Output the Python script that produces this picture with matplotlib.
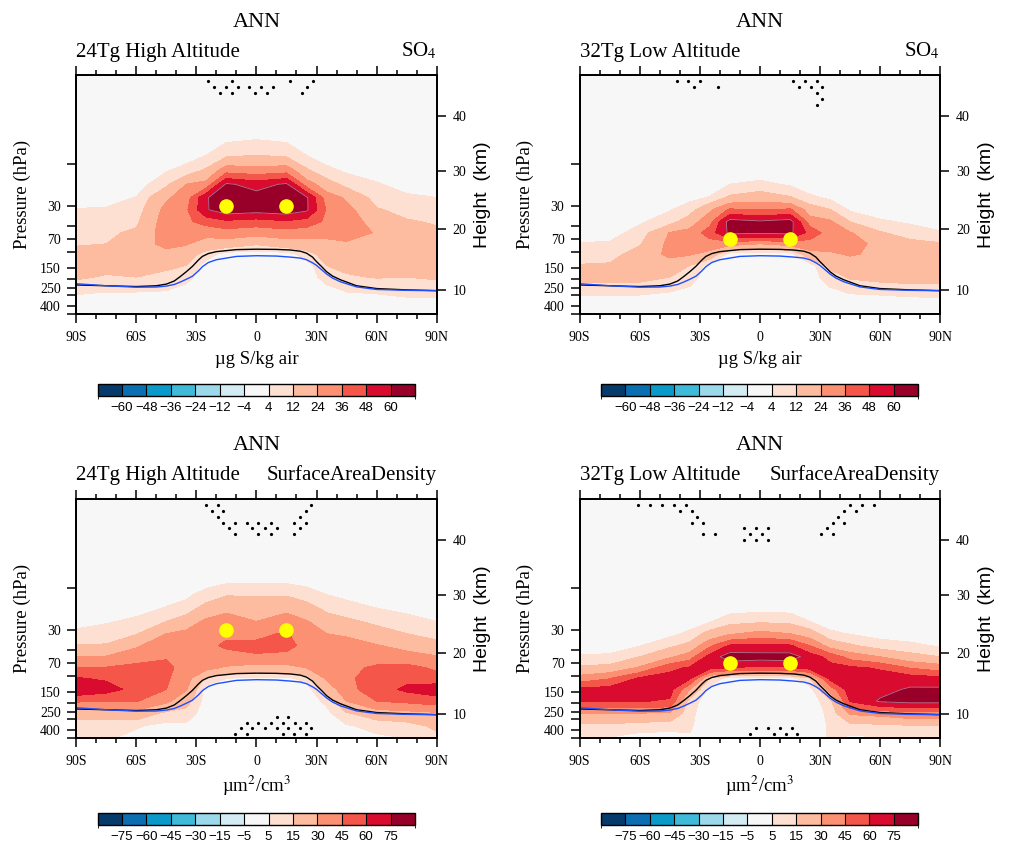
import numpy as np
import matplotlib
matplotlib.use("Agg")
import matplotlib.pyplot as plt
from matplotlib.colors import ListedColormap, BoundaryNorm
from matplotlib.cm import ScalarMappable
from matplotlib.ticker import NullLocator

plt.rcParams['font.family'] = ['Liberation Serif', 'DejaVu Serif']
plt.rcParams['mathtext.fontset'] = 'stix'

# grid: latitude columns, pressure levels (hPa)
lat = [-90, -75, -60, -45, -35, -25, -15, 0, 15, 25, 35, 45, 60, 75, 90]
plev = [1, 5, 8, 12, 17, 24, 33, 45, 60, 80, 105, 140, 190, 260, 360, 500]

# one row per latitude, values at each pressure level (percent change)
so4_high = [
    [0, 0, 0, 0, 0, 0, 4.5, 7, 9, 11.5, 14, 15, 13.5, 6, 1, 0],
    [0, 0, 0, 0, 0, 1, 5, 8, 10, 12, 15, 15, 11, 5, 0, 0],
    [0, 0, 0, 0, 0, 4.3, 7, 10, 14, 19, 20, 17, 12, 5, 0, 0],
    [0, 0, 0, 3.5, 10, 22, 28, 30, 30, 27, 20, 14, 9, 4.5, 0, 0],
    [0, 0, 1, 7, 24, 30, 34, 34, 30, 25, 17, 12, 6, 2, 0, 0],
    [0, 0, 4, 14, 28, 59, 59, 40, 28, 18, 8, 0, 0, 0, 0, 0],
    [0, 2, 10, 32, 62, 68, 67, 45, 30, 18, 0, 0, 0, 0, 0, 0],
    [0, 3, 12, 30, 55, 66, 65, 42, 28, 13, 0, 0, 0, 0, 0, 0],
    [0, 2, 10, 32, 62, 68, 67, 46, 30, 18, 0, 0, 0, 0, 0, 0],
    [0, 0, 4, 14, 30, 62, 62, 42, 29, 18, 8, 0, 0, 0, 0, 0],
    [0, 0, 1, 6, 17, 30, 35, 34, 28, 20, 16, 12, 7, 2, 0, 0],
    [0, 0, 0, 3, 9, 22, 28, 30, 30, 22, 17, 14, 11, 5, 0, 0],
    [0, 0, 0, 2, 4.5, 8, 13, 19, 23, 22, 19, 16, 12.5, 6, 0, 0],
    [0, 0, 0, 0, 2, 5, 9, 13, 17, 19, 18, 16, 12, 7, 2, 0],
    [0, 0, 0, 0, 1, 4, 8, 11, 14, 16, 17, 16, 13, 8, 2, 0],
]

so4_low = [
    [0, 0, 0, 0, 0, 0, 0, 0, 0, 4.5, 8, 12.5, 15, 7, 0, 0],
    [0, 0, 0, 0, 0, 0, 0, 0, 1, 5, 9, 13, 15, 7, 0, 0],
    [0, 0, 0, 0, 0, 0, 0, 3, 7, 11, 16, 17, 15, 7, 0, 0],
    [0, 0, 0, 0, 0, 0, 3.5, 8, 24.5, 27, 27, 17, 12, 5, 0, 0],
    [0, 0, 0, 0, 0, 2, 8, 18, 28, 30, 25, 12, 7, 3, 0, 0],
    [0, 0, 0, 0, 0, 4.5, 22, 32, 42, 30, 20, 0, 0, 0, 0, 0],
    [0, 0, 0, 0, 4, 14, 38, 66, 63, 28, 0, 0, 0, 0, 0, 0],
    [0, 0, 0, 0, 6, 18, 36, 62, 62, 24, 0, 0, 0, 0, 0, 0],
    [0, 0, 0, 0, 3, 13, 38, 66, 63, 28, 0, 0, 0, 0, 0, 0],
    [0, 0, 0, 0, 0, 5.5, 18, 30, 44, 30, 20, 0, 0, 0, 0, 0],
    [0, 0, 0, 0, 0, 2.5, 12.5, 26, 30, 29, 22, 14, 8, 3, 0, 0],
    [0, 0, 0, 0, 0, 0, 3, 12, 25, 28, 25, 18, 13, 6, 0, 0],
    [0, 0, 0, 0, 0, 0, 1, 5, 13, 21, 22, 20, 15, 7, 0, 0],
    [0, 0, 0, 0, 0, 0, 0, 3, 8, 15, 18, 19, 16, 8, 1, 0],
    [0, 0, 0, 0, 0, 0, 0, 0, 5, 13, 16, 17, 15, 9, 1, 0],
]

sad_high = [
    [0, 0, 0, 0, 0, 1, 8, 15.5, 30, 45, 61, 72, 47, 20, 10, 7],
    [0, 0, 0, 0, 0, 4, 10, 16, 31, 46, 58, 66, 45, 20, 10, 6],
    [0, 0, 0, 0, 2, 7, 14, 28, 38, 50, 54, 55, 46, 24, 6, 2],
    [0, 0, 0, 2, 5.5, 15, 30, 40, 44, 48, 47, 45, 33, 12, 2, 0],
    [0, 0, 0, 3, 9, 22, 34, 40, 45, 40, 36, 31, 20, 10, 3, 0],
    [0, 0, 0, 9, 20, 33, 40, 42, 40, 34, 12, 0, 0, 0, 0, 0],
    [0, 0, 2, 14, 27, 36, 43, 47, 40, 28, 5, 0, 0, 0, 0, 0],
    [0, 0, 2, 14, 25, 30, 43, 47, 44, 22, 3, 0, 0, 0, 0, 0],
    [0, 0, 2, 14, 26, 38, 46, 48, 42, 24, 3, 0, 0, 0, 0, 0],
    [0, 0, 1, 10, 20, 31, 38, 42, 40, 30, 8, 0, 0, 0, 0, 0],
    [0, 0, 0, 5, 12, 22, 30, 38, 40, 37, 32, 20, 7, 2, 0, 0],
    [0, 0, 0, 3, 8.5, 18, 28, 36, 40, 42, 42, 40, 30, 14, 4, 1],
    [0, 0, 0, 1, 5, 12, 22, 31, 40, 47, 52, 53, 45, 22, 8, 3],
    [0, 0, 0, 0, 3, 8, 15, 25, 36, 50, 56, 63, 48, 25, 10, 5],
    [0, 0, 0, 0, 1, 5, 10.5, 20, 31, 42, 52, 69, 52, 28, 18, 10],
]

sad_low = [
    [0, 0, 0, 0, 0, 0, 0, 0, 6, 17, 36, 64, 60, 30, 12, 5],
    [0, 0, 0, 0, 0, 0, 0, 0.5, 7, 19, 44, 66, 60, 30, 12, 4],
    [0, 0, 0, 0, 0, 0, 0, 4.5, 15, 32, 62, 70, 61, 30, 8, 2],
    [0, 0, 0, 0, 0, 0, 2.5, 12.5, 27.5, 56, 66, 66, 58, 28, 8, 1],
    [0, 0, 0, 0, 0, 1, 7, 19, 38, 62, 62, 30, 9, 7, 6, 4],
    [0, 0, 0, 0, 0, 4, 20, 42, 66, 65, 14, 0, 0, 0, 0, 0],
    [0, 0, 0, 0, 1, 11, 28, 62, 84, 59, 0, 0, 0, 0, 0, 0],
    [0, 0, 0, 0, 2, 13, 35, 64, 82, 57, 0, 0, 0, 0, 0, 0],
    [0, 0, 0, 0, 1.5, 12, 30, 62, 83, 58, 0, 0, 0, 0, 0, 0],
    [0, 0, 0, 0, 0, 5, 22, 45, 68, 66, 14, 0, 0, 0, 0, 0],
    [0, 0, 0, 0, 0, 1, 7, 24, 55, 65, 64, 35, 10, 7, 6, 6],
    [0, 0, 0, 0, 0, 0, 4.5, 17, 39, 63, 67, 68, 61, 32, 10, 3],
    [0, 0, 0, 0, 0, 0, 2, 9, 30, 58, 68, 70, 77, 35, 12, 4],
    [0, 0, 0, 0, 0, 0, 1, 7, 20, 44, 68, 77, 80, 40, 14, 6],
    [0, 0, 0, 0, 0, 0, 0, 4, 15, 38, 64, 78, 80, 40, 15, 6],
]

# tropopause, control (black) and perturbed (blue)
tp_lat = [-90, -75, -60, -50, -45, -41, -38, -35, -32, -29, -27, -24, -20, -10, 0,
          10, 17, 22, 25, 28, 30, 33, 35, 38, 42, 50, 60, 75, 90]
tp_ctl = [233, 238, 243, 238, 228, 210, 187, 165, 144, 122, 111, 103, 98, 93, 92,
          92.5, 94, 97, 102, 113, 127, 148, 165, 185, 204, 238, 256, 265, 270]
tp_exp = [226, 238, 247, 246, 240, 230, 216, 201, 186, 162, 145, 130, 121, 111, 109,
          110, 113, 116, 121, 131, 140, 160, 175, 195, 215, 245, 262, 268, 271]

# significance stippling (lat, hPa)
stip1_lat = [-24.1, -12.4, 16.7, 28.4, -21.2, -15.2, -9.4, -3.6, 2.3, 8.1, 25.4,
             -18.2, -12.4, -0.7, 5.1, 22.6]
stip1_p = [1.16] * 4 + [1.34] * 7 + [1.57] * 5

stip2_lat = [-41.6, -35.8, -29.9, 16.6, 22.5, 28.3, -32.9, -21.1, 19.5, 25.3, 31.1,
             28.3, 31.1, 28.3]
stip2_p = [1.16] * 6 + [1.34] * 5 + [1.57, 1.84, 2.15]

stip3_lat = [-25.2, -19.4, 27.5, -22.4, -16.6, 24.7, -19.4, 21.7,
             -16.6, -10.7, -4.9, 0.9, 7.1, 18.7, 24.7,
             -13.6, -2.1, 4.2, 10.1, 21.7, -10.7, 0.9, 7.1, 18.7,
             10.1, 15.9, -4.9, 0.9, 7.1, 13.4, 19.2, 24.7,
             -7.9, -2.1, 4.2, 10.1, 15.9, 21.7, 27.5, -10.7, -4.9, 13.1, 18.9, 24.7]
stip3_p = ([1.17] * 3 + [1.37] * 3 + [1.58] * 2 + [1.85] * 7 + [2.14] * 5 + [2.5] * 4
           + [286] * 2 + [333] * 6 + [386] * 7 + [452] * 5)

stip4_lat = [-60.7, -54.7, -48.9, -42.9, -37.1, 45.2, 51.0, 56.9,
             -40.0, -34.1, 42.2, 48.0, -31.2, 39.2,
             -34.1, -28.2, 36.4, 42.2, -7.7, -1.8, 4.1, 33.4,
             -28.2, -22.4, -4.8, 1.2, 30.5, 36.4, -7.7, -1.8, 4.1,
             -1.8, 4.1, 10.1, 15.9, -4.8, 7.1, 13.0, 18.7]
stip4_p = ([1.17] * 8 + [1.37] * 4 + [1.58] * 2 + [1.85] * 4 + [2.14] * 4 + [2.5] * 6
           + [2.93] * 3 + [386] * 4 + [452] * 4)

# injection points
inj_lat = [-15, 15]
inj_high = [30, 30]
inj_low = [70, 70]

lev_so4 = [-60, -48, -36, -24, -12, -4, 4, 12, 24, 36, 48, 60]
lev_sad = [-75, -60, -45, -30, -15, -5, 5, 15, 30, 45, 60, 75]

colors = ['#053a6b', '#0b6eb0', '#0a9ac9', '#3fbbd9', '#9ad8ea', '#d3ebf3', '#f7f7f7',
          '#fee0d2', '#fdbb9f', '#fc9072', '#f5564a', '#d90b2e', '#98002a']

xt = [-90, -60, -30, 0, 30, 60, 90]
xt_lab = ['90S', '60S', '30S', '0', '30N', '60N', '90N']
pt = [10, 30, 50, 70, 100, 150, 200, 250, 300, 400, 500]
pt_lab = ['', '30', '', '70', '', '150', '', '250', '', '400', '']
hgt_p = [264.4, 54.7, 11.97, 2.87]
hgt_lab = ['10', '20', '30', '40']

fig = plt.figure(figsize=(10.1, 8.44), dpi=100)


def panel(pos, cbpos, field, levels, ltxt, rtxt, xlab, xlab_y, s_lat, s_p, inj_p):
    ax = fig.add_axes(pos)
    z = np.array(field, dtype=float).T
    cmap = ListedColormap(colors[1:-1])
    cmap.set_under(colors[0])
    cmap.set_over(colors[-1])
    norm = BoundaryNorm(levels, cmap.N)
    ax.contourf(lat, plev, z, levels=levels, cmap=cmap, norm=norm, extend='both')
    if z.max() > levels[-1]:
        ax.contour(lat, plev, z, levels=[levels[-1]], colors='#b8798f', linewidths=0.6)
    ax.plot(tp_lat, tp_ctl, color='k', lw=1.0)
    ax.plot(tp_lat, tp_exp, color='#1f50ff', lw=1.0)
    ax.plot(s_lat, s_p, 'o', color='k', ms=2.3, mew=0)
    ax.plot(inj_lat, inj_p, 'o', color='#ffff00', ms=10.5, mew=0)

    ax.set_yscale('log')
    ax.set_ylim(500, 1)
    ax.set_xlim(-90, 90)
    ax.set_xticks(xt)
    ax.set_xticklabels(xt_lab, fontsize=10)
    ax.set_xticks(np.arange(-80, 90, 10), minor=True)
    ax.set_yticks(pt)
    ax.set_yticklabels(pt_lab, fontsize=10)
    ax.yaxis.set_minor_locator(NullLocator())
    ax.tick_params(axis='x', which='major', direction='out', length=6.5, width=1.1,
                   top=True, pad=5.5)
    ax.tick_params(axis='x', which='minor', direction='out', length=3.5, width=1.1, top=True)
    ax.tick_params(axis='y', which='major', direction='out', length=6.5, width=1.1,
                   right=False, pad=4.5)
    for s in ax.spines.values():
        s.set_linewidth(1.3)

    ax2 = ax.twinx()
    ax2.set_yscale('log')
    ax2.set_ylim(500, 1)
    ax2.set_yticks(hgt_p)
    ax2.set_yticklabels(hgt_lab, fontsize=10)
    ax2.yaxis.set_minor_locator(NullLocator())
    ax2.tick_params(axis='y', direction='out', length=6.5, width=1.1, pad=5)
    for s in ax2.spines.values():
        s.set_linewidth(1.3)

    ax.text(0.5, 1.203, 'ANN', transform=ax.transAxes, ha='center', va='baseline', fontsize=16)
    ax.text(0.0, 1.078, ltxt, transform=ax.transAxes, ha='left', va='baseline', fontsize=15)
    ax.text(1.0, 1.078, rtxt, transform=ax.transAxes, ha='right', va='baseline', fontsize=15)
    ax.text(-0.15, 0.5, 'Pressure (hPa)', transform=ax.transAxes, rotation=90,
            ha='center', va='center', fontsize=13.5)
    ax.text(1.128, 0.5, 'Height  (km)', transform=ax.transAxes, rotation=90,
            ha='center', va='center', fontsize=14, family='Liberation Sans')
    ax.text(0.5, xlab_y, xlab, transform=ax.transAxes, ha='center', va='center', fontsize=13.5)

    # label bar
    cax = fig.add_axes(cbpos)
    sm = ScalarMappable(norm=BoundaryNorm(np.arange(14), 13), cmap=ListedColormap(colors))
    cb = fig.colorbar(sm, cax=cax, orientation='horizontal', ticks=np.arange(1, 13),
                      drawedges=True)
    cb.ax.set_xticklabels([str(v).replace('-', '\u2212') for v in levels],
                          fontsize=9.5, family='Liberation Sans')
    cb.ax.tick_params(length=0, pad=4)
    cb.outline.set_linewidth(1.0)
    cb.dividers.set_linewidth(0.8)


panel([0.0755, 0.6276, 0.3568, 0.2832], [0.0967, 0.5308, 0.3142, 0.0139],
      so4_high, lev_so4, '24Tg High Altitude', 'SO$_4$', '\u00b5g S/kg air', -0.187,
      stip1_lat, stip1_p, inj_high)
panel([0.574, 0.6276, 0.3567, 0.2832], [0.595, 0.5308, 0.3142, 0.0139],
      so4_low, lev_so4, '32Tg Low Altitude', 'SO$_4$', '\u00b5g S/kg air', -0.187,
      stip2_lat, stip2_p, inj_low)
panel([0.0755, 0.1252, 0.3568, 0.2835], [0.0967, 0.0225, 0.3142, 0.0139],
      sad_high, lev_sad, '24Tg High Altitude', 'SurfaceAreaDensity', '\u00b5m$^2$/cm$^3$', -0.20,
      stip3_lat, stip3_p, inj_high)
panel([0.574, 0.1252, 0.3567, 0.2835], [0.595, 0.0225, 0.3142, 0.0139],
      sad_low, lev_sad, '32Tg Low Altitude', 'SurfaceAreaDensity', '\u00b5m$^2$/cm$^3$', -0.20,
      stip4_lat, stip4_p, inj_low)

fig.savefig('out.png', dpi=100)
